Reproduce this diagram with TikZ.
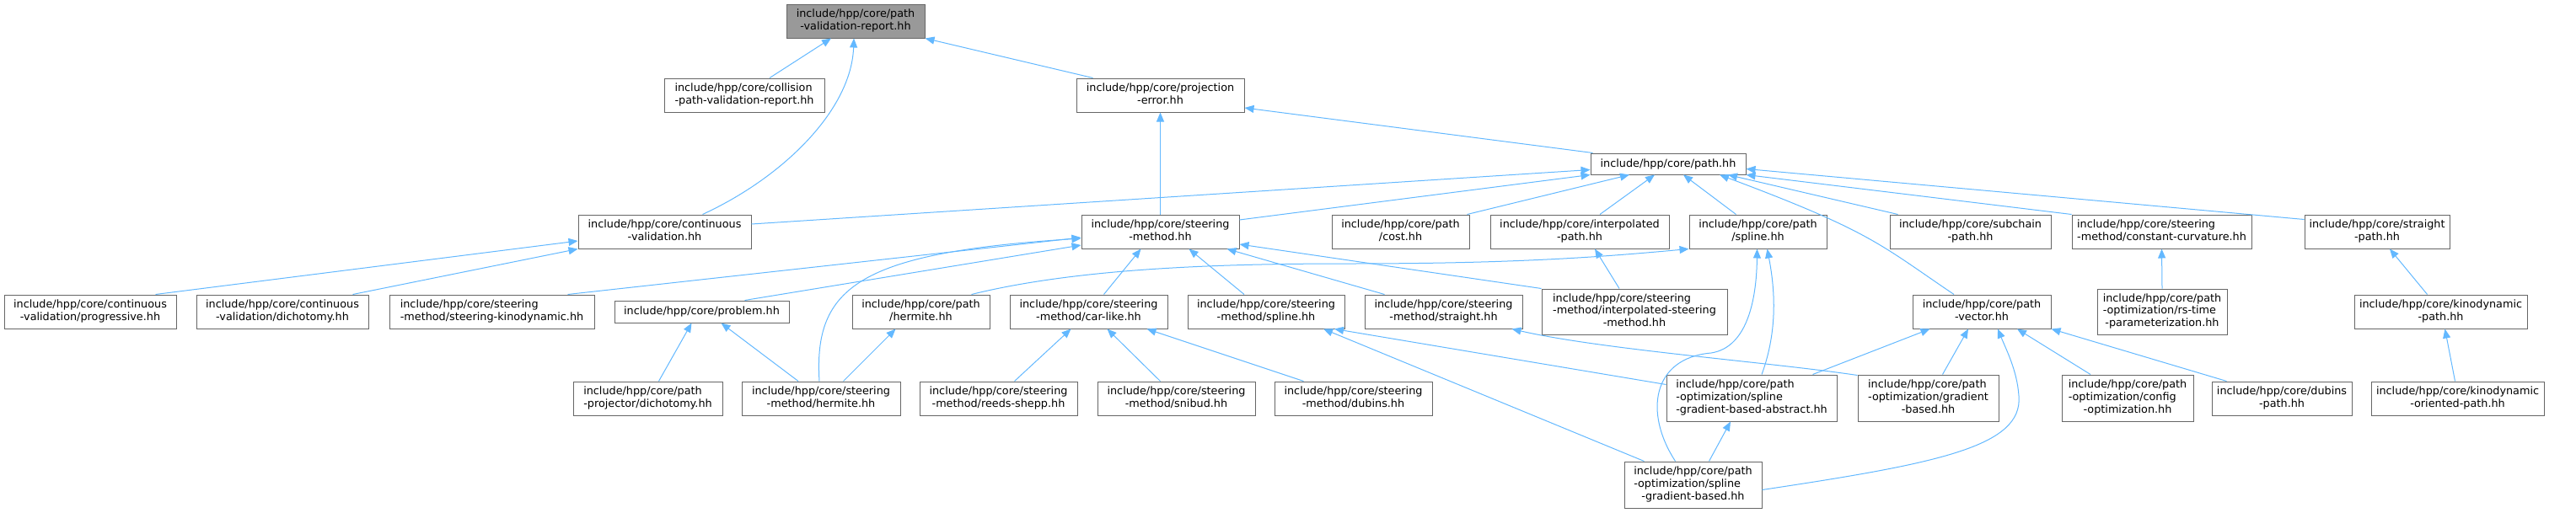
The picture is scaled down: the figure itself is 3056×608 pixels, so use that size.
\documentclass[tikz,border=0pt]{standalone}
\usepackage{fontspec}
\setmainfont{DejaVu Sans}
\usetikzlibrary{arrows.meta}

\definecolor{grey40}{HTML}{666666}
\definecolor{grey60}{HTML}{999999}
\definecolor{steelblue}{HTML}{63B8FF}

% etiquetas de dos y tres lineas
\newcommand{\dlab}[2]{\begin{tabular}{@{}l@{}}#1\\\multicolumn{1}{@{}c@{}}{#2}\end{tabular}}
\newcommand{\tlab}[3]{\begin{tabular}{@{}l@{}}#1\\#2\\\multicolumn{1}{@{}c@{}}{#3}\end{tabular}}

\begin{document}
\begin{tikzpicture}[x=1pt, y=-1pt,
    box/.style={draw=grey40, fill=white, line width=1pt, inner sep=0pt,
      minimum height=40pt, font=\fontsize{12.8pt}{14.7pt}\selectfont},
    dep/.style={draw=steelblue, line width=1pt,
      -{Triangle[length=11pt, width=9pt, fill=steelblue]}}]
    \useasboundingbox (0,0) rectangle (3056,608);

    % Nivel 0
    \node[box, fill=grey60, minimum width=164pt] (root) at (1015,25) {\dlab{include/hpp/core/path}{-validation-report.hh}};

    % Nivel 1
    \node[box, minimum width=190pt] (coll) at (883,113) {\dlab{include/hpp/core/collision}{-path-validation-report.hh}};
    \node[box, minimum width=199pt] (proj) at (1376.5,113) {\dlab{include/hpp/core/projection}{-error.hh}};
    \node[box, minimum width=184pt, minimum height=25pt] (path) at (1979,194.5) {include/hpp/core/path.hh};

    % Nivel 2
    \node[box, minimum width=205pt] (cval) at (788.5,275) {\dlab{include/hpp/core/continuous}{-validation.hh}};
    \node[box, minimum width=187pt] (steer) at (1376.5,275) {\dlab{include/hpp/core/steering}{-method.hh}};
    \node[box, minimum width=163pt] (cost) at (1661.5,275) {\dlab{include/hpp/core/path}{/cost.hh}};
    \node[box, minimum width=212pt] (interp) at (1874,275) {\dlab{include/hpp/core/interpolated}{-path.hh}};
    \node[box, minimum width=163pt] (spline) at (2085.5,275) {\dlab{include/hpp/core/path}{/spline.hh}};
    \node[box, minimum width=191pt] (subch) at (2337.5,275) {\dlab{include/hpp/core/subchain}{-path.hh}};
    \node[box, minimum width=213pt] (ccurv) at (2564.5,275) {\dlab{include/hpp/core/steering}{-method/constant-curvature.hh}};
    \node[box, minimum width=172pt] (spath) at (2820,275) {\dlab{include/hpp/core/straight}{-path.hh}};

    % Nivel 3
    \node[box, minimum width=204pt] (prog) at (107,370) {\dlab{include/hpp/core/continuous}{-validation/progressive.hh}};
    \node[box, minimum width=204pt] (dich) at (335,370) {\dlab{include/hpp/core/continuous}{-validation/dichotomy.hh}};
    \node[box, minimum width=243pt] (kino) at (583.5,370) {\dlab{include/hpp/core/steering}{-method/steering-kinodynamic.hh}};
    \node[box, minimum width=207pt, minimum height=26pt] (prob) at (832.5,370) {include/hpp/core/problem.hh};
    \node[box, minimum width=163pt] (pherm) at (1092.5,370) {\dlab{include/hpp/core/path}{/hermite.hh}};
    \node[box, minimum width=187pt] (car) at (1291.5,370) {\dlab{include/hpp/core/steering}{-method/car-like.hh}};
    \node[box, minimum width=186pt] (ssp) at (1502,370) {\dlab{include/hpp/core/steering}{-method/spline.hh}};
    \node[box, minimum width=187pt] (sstr) at (1712.5,370) {\dlab{include/hpp/core/steering}{-method/straight.hh}};
    \node[box, minimum width=220pt, minimum height=54pt] (isteer) at (1939,370) {\tlab{include/hpp/core/steering}{-method/interpolated-steering}{-method.hh}};
    \node[box, minimum width=164pt] (pvec) at (2351,370) {\dlab{include/hpp/core/path}{-vector.hh}};
    \node[box, minimum width=154pt, minimum height=54pt] (rs) at (2565,370) {\tlab{include/hpp/core/path}{-optimization/rs-time}{-parameterization.hh}};
    \node[box, minimum width=205pt] (kpath) at (2895.5,370) {\dlab{include/hpp/core/kinodynamic}{-path.hh}};

    % Nivel 4
    \node[box, minimum width=177pt] (pproj) at (768.5,473) {\dlab{include/hpp/core/path}{-projector/dichotomy.hh}};
    \node[box, minimum width=188pt] (sherm) at (974,473) {\dlab{include/hpp/core/steering}{-method/hermite.hh}};
    \node[box, minimum width=187pt] (reeds) at (1184.5,473) {\dlab{include/hpp/core/steering}{-method/reeds-shepp.hh}};
    \node[box, minimum width=187pt] (snib) at (1395.5,473) {\dlab{include/hpp/core/steering}{-method/snibud.hh}};
    \node[box, minimum width=187pt] (sdub) at (1605.5,473) {\dlab{include/hpp/core/steering}{-method/dubins.hh}};
    \node[box, minimum width=202pt, minimum height=55pt] (gba) at (2078,472.5) {\tlab{include/hpp/core/path}{-optimization/spline}{-gradient-based-abstract.hh}};
    \node[box, minimum width=167pt, minimum height=55pt] (gradb) at (2287.5,472.5) {\tlab{include/hpp/core/path}{-optimization/gradient}{-based.hh}};
    \node[box, minimum width=156pt, minimum height=55pt] (cfg) at (2524,472.5) {\tlab{include/hpp/core/path}{-optimization/config}{-optimization.hh}};
    \node[box, minimum width=166pt] (dpath) at (2707,473) {\dlab{include/hpp/core/dubins}{-path.hh}};
    \node[box, minimum width=205pt] (kopath) at (2915.5,473) {\dlab{include/hpp/core/kinodynamic}{-oriented-path.hh}};

    % Nivel 5
    \node[box, minimum width=163pt, minimum height=55pt] (sgb) at (2008.5,575.5) {\tlab{include/hpp/core/path}{-optimization/spline}{-gradient-based.hh}};

    % Dependencias hacia la raiz
    \draw[dep] ([xshift=30pt]coll.north) -- ([xshift=-29pt]root.south);
    \draw[dep] ([xshift=45pt]cval.north) .. controls (930,210) and (1010,130) .. ([xshift=-2pt]root.south);
    \draw[dep] ([xshift=20pt]proj.north west) -- (root.south east);

    % projection-error y path.hh
    \draw[dep] ([xshift=3pt]path.north west) -- ([yshift=-15pt]proj.east);
    \draw[dep] (steer.north) -- (proj.south);
    \draw[dep] ([yshift=9pt]cval.east) -- ([yshift=-7pt]path.west);
    \draw[dep] ([yshift=14pt]steer.east) -- (path.south west);
    \draw[dep] ([xshift=-3pt]cost.north east) -- ([xshift=-46pt]path.south);
    \draw[dep] ([xshift=24pt]interp.north) -- ([xshift=-16pt]path.south);
    \draw[dep] ([xshift=-26pt]spline.north) -- ([xshift=18pt]path.south);
    \draw[dep] ([xshift=-33pt]pvec.north) .. controls (2230,290) and (2220,275) .. ([xshift=61pt]path.south);
    \draw[dep] ([xshift=10pt]subch.north west) -- ([xshift=71pt]path.south);
    \draw[dep] (ccurv.north west) -- (path.south east);
    \draw[dep] ([yshift=-6pt]spath.north west) -- ([yshift=-6pt]path.east);

    % continuous-validation
    \draw[dep] ([xshift=-25pt]prog.north east) -- ([yshift=-11pt]cval.west);
    \draw[dep] ([xshift=-19pt]dich.north east) -- (cval.south west);

    % steering-method
    \draw[dep] ([xshift=-32pt]kino.north east) -- ([yshift=-7pt]steer.west);
    \draw[dep] ([xshift=-53pt]prob.north east) -- ([yshift=-16pt]steer.west);
    \draw[dep] ([xshift=-2pt]sherm.north) .. controls (965,340) and (1020,300) .. ([yshift=-8pt]steer.west);
    \draw[dep] ([xshift=18pt]car.north) -- ([xshift=-23pt]steer.south);
    \draw[dep] ([xshift=-26pt]ssp.north) -- ([xshift=34pt]steer.south);
    \draw[dep] ([xshift=24pt]sstr.north west) -- ([xshift=-15pt]steer.south east);
    \draw[dep] (isteer.north west) -- ([yshift=-15pt]steer.east);
    \draw[dep] ([xshift=-18pt]isteer.north) -- ([xshift=18pt]interp.south);

    % path/spline
    \draw[dep] ([xshift=60pt]pherm.north) .. controls (1280,318) and (1450,313) .. (1600,313)
      .. controls (1800,313) and (1900,305) .. (spline.south west);
    \draw[dep] ([xshift=-21pt]sgb.north) .. controls (1950,490) and (1960,425) .. (2030,419)
      .. controls (2075,412) and (2084,350) .. ([xshift=-1pt]spline.south);
    \draw[dep] ([xshift=12pt]gba.north) .. controls (2110,390) and (2105,340) .. ([xshift=11pt]spline.south);

    % hermite y problem
    \draw[dep] ([xshift=-68pt]sherm.north east) -- ([xshift=-30pt]pherm.south);
    \draw[dep] ([xshift=-27pt]sherm.north) -- ([xshift=23pt]prob.south);
    \draw[dep] ([xshift=13pt]pproj.north) -- ([xshift=-12pt]prob.south);

    % car-like
    \draw[dep] ([xshift=19pt]reeds.north) -- ([xshift=-21pt]car.south);
    \draw[dep] ([xshift=-19pt]snib.north) -- ([xshift=22pt]car.south);
    \draw[dep] ([xshift=35pt]sdub.north west) -- ([xshift=-25pt]car.south east);

    % steering-method/spline y straight
    \draw[dep] ([yshift=-12pt]gba.north west) -- ([xshift=81pt]ssp.south);
    \draw[dep] ([xshift=-58pt]sgb.north) -- ([xshift=68pt]ssp.south);
    \draw[dep] ([yshift=-1pt]gradb.north west) .. controls (2100,430) and (1900,415) .. ([xshift=-13pt]sstr.south east);

    % path-vector
    \draw[dep] ([xshift=-29pt]gba.north east) -- ([xshift=21pt]pvec.south west);
    \draw[dep] ([xshift=17pt]gradb.north) -- ([xshift=-16pt]pvec.south);
    \draw[dep] ([yshift=-6pt]sgb.east) .. controls (2300,550) and (2400,530) .. (2395,470)
      .. controls (2393,440) and (2380,415) .. ([xshift=19pt]pvec.south);
    \draw[dep] ([xshift=-44pt]cfg.north) -- ([xshift=42pt]pvec.south);
    \draw[dep] ([xshift=18pt]dpath.north west) -- (pvec.south east);
    \draw[dep] ([xshift=19pt]sgb.north) -- ([xshift=-25pt]gba.south);

    % resto
    \draw[dep] (rs.north) -- (ccurv.south);
    \draw[dep] ([xshift=-16pt]kpath.north) -- ([xshift=15pt]spath.south);
    \draw[dep] ([xshift=-3pt]kopath.north) -- ([xshift=5pt]kpath.south);
\end{tikzpicture}
\end{document}
